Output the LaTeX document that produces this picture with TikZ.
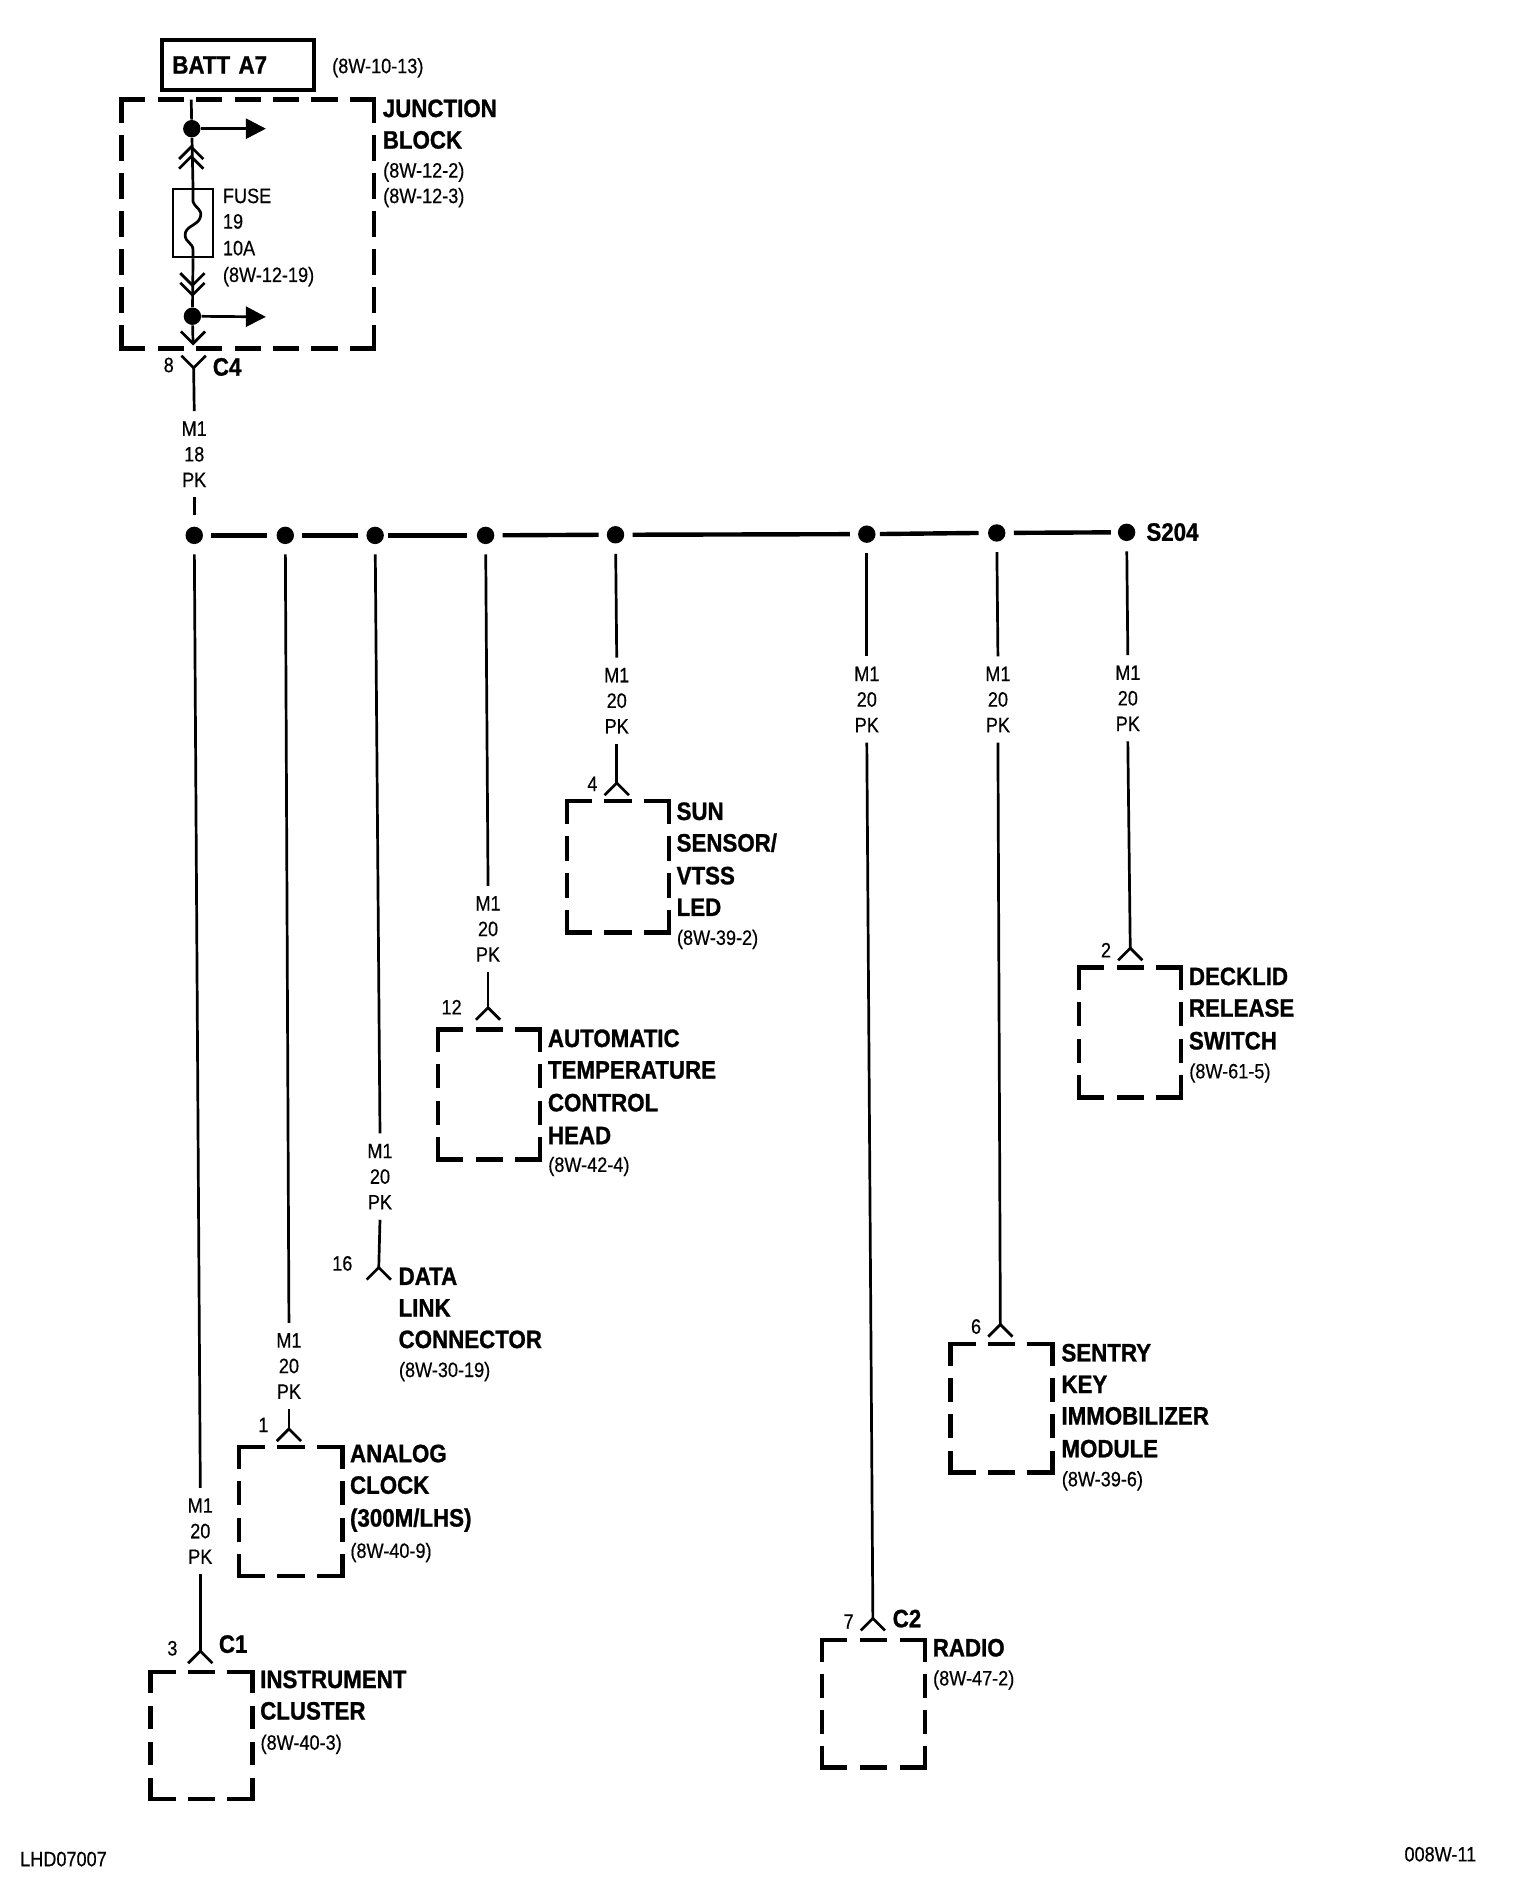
\documentclass[tikz,border=0pt]{standalone}
\usepackage{fontspec}
\usetikzlibrary{arrows.meta}
\newfontfamily\rft[FakeStretch=0.87,FakeBold=0.4]{Liberation Sans}
\newfontfamily\bft[FakeStretch=0.885,FakeBold=1]{Liberation Sans}
\tikzset{
  x=0.60703pt,y=-0.60703pt,
  wire/.style={line width=1.35pt,black},
  trunk/.style={line width=2.2pt,black},
  feedarrow/.style={wire,-{Triangle[length=10pt,width=10pt]}},
  spliced/.style={circle,fill=black,inner sep=0pt,minimum size=8.7pt},
  wirelabel/.style={font=\rft\fontsize{10.4}{12.8}\selectfont,align=center,inner xsep=0pt,inner ysep=5pt,yshift=0.5pt},
  boldtxt/.style={font=\bft\bfseries\fontsize{12.6}{15}\selectfont,anchor=base west,inner sep=0pt,xshift=-0.6pt,yshift=-3.9pt},
  regtxt/.style={font=\rft\fontsize{10.4}{12.8}\selectfont,anchor=base west,inner sep=0pt,xshift=-0.4pt,yshift=-3.2pt},
  pinno/.style={font=\rft\fontsize{10.4}{12.8}\selectfont,anchor=base,inner sep=0pt,yshift=-3.4pt},
  battbox/.style={draw,line width=2.1pt,anchor=west,font=\bft\bfseries\fontsize{12.6}{15}\selectfont,
    text width=66pt,inner xsep=5pt,minimum height=25pt,align=left},
  fusebox/.style={draw,line width=1.1pt,inner sep=0pt,minimum width=20pt,minimum height=34pt},
}
% one dashed side of a box: from, to, length in units, number of dashes
\newcommand\dashside[4]{%
  \pgfmathsetmacro\offlen{6.1+2.2}%
  \pgfmathsetmacro\onlen{(#3*0.60703-(#4-1)*\offlen)/#4}%
  \draw[line width=2.2pt,line cap=rect,dash pattern=on \onlen pt off \offlen pt] (#1) -- (#2);}
% dashed box: name, x1, y1, x2, y2, dashes across, dashes down
\newcommand\compbox[7]{%
  \coordinate (#1nw) at (#2,#3);\coordinate (#1ne) at (#4,#3);
  \coordinate (#1sw) at (#2,#5);\coordinate (#1se) at (#4,#5);
  \pgfmathsetmacro\wlen{#4-#2}\pgfmathsetmacro\hlen{#5-#3}%
  \dashside{#1nw}{#1ne}{\wlen}{#6}\dashside{#1sw}{#1se}{\wlen}{#6}%
  \dashside{#1nw}{#1sw}{\hlen}{#7}\dashside{#1ne}{#1se}{\hlen}{#7}}
% connector tip opening downward
\newcommand\tipdown[3]{\coordinate (#1) at (#2,#3);
  \draw[wire,shift={(#1)}] (-10,10) -- (0,0) -- (10,10);}
% chevron opening upward
\newcommand\tipup[3]{\coordinate (#1) at (#2,#3);
  \draw[wire,shift={(#1)}] (-10,-10) -- (0,0) -- (10,-10);}
% feed: id, label x, label y, tip x, tip y
\newcommand\feed[5]{%
  \node[wirelabel] (l#1) at (#2,#3) {M1\\20\\PK};
  \tipdown{t#1}{#4}{#5}
  \draw[wire,shorten <=5pt] (d#1) -- (l#1.north);
  \draw[wire] (l#1.south) -- (t#1);}
\begin{document}
\begin{tikzpicture}
\useasboundingbox[fill=white] (0,0) rectangle (1252,1566.7);

% top block
\node[battbox] (batt) at (132,53.5) {BATT A7};
\node[regtxt] (battref) at (274,55) {(8W-10-13)};
\compbox{jb}{100}{82}{308}{287}{7}{7}
\node[boldtxt] (jb1) at (316,90) {JUNCTION};
\node[boldtxt] (jb2) at (316,116) {BLOCK};
\node[regtxt] (jb3) at (316,141) {(8W-12-2)};
\node[regtxt] (jb4) at (316,162) {(8W-12-3)};
\node[regtxt] (fu1) at (184,162) {FUSE};
\node[regtxt] (fu2) at (184,183) {19};
\node[regtxt] (fu3) at (184,205) {10A};
\node[regtxt] (fu4) at (184,227) {(8W-12-19)};

\coordinate (jtop) at (157.5,82);
\node[spliced] (da) at (158,106) {};
\node[spliced] (db) at (158.5,260.5) {};
\coordinate (aa) at (219,106);
\coordinate (ab) at (219,261);
\node[fusebox] (fuse) at (159,184) {};
\tipdown{ca}{157.5}{121}
\tipdown{cb}{157.5}{129}
\tipup{cc}{158.5}{235}
\tipup{cd}{158.5}{243}
\tipup{ce}{159}{283}
\draw[wire] (jtop) -- (da);
\draw[feedarrow] (da) -- (aa);
\draw[feedarrow] (db) -- (ab);
\draw[wire] (da) -- (fuse.north);
\draw[wire] (fuse.north) -- (159,166) .. controls (161,172) and (167,172) .. (165,179)
  .. controls (163,186) and (152,186) .. (152.5,194) .. controls (153,200) and (159,200) .. (159,206) -- (fuse.south);
\draw[wire] (fuse.south) -- (db);
\draw[wire] (db) -- (ce);

% C4
\coordinate (c4tip) at (159.5,303);
\draw[wire,shift={(c4tip)}] (-10,-10) -- (0,0) -- (10,-10);
\node[pinno] (n8) at (139,301) {8};
\node[boldtxt] (c4) at (176,303) {C4};
\node[wirelabel] (l0) at (160,375) {M1\\18\\PK};
\draw[wire] (c4tip) -- (l0.north);

% trunk
\node[spliced] (d1) at (160,441) {};
\node[spliced] (d2) at (235,441) {};
\node[spliced] (d3) at (309,441) {};
\node[spliced] (d4) at (400,441) {};
\node[spliced] (d5) at (507,440.5) {};
\node[spliced] (d6) at (714,440) {};
\node[spliced] (d7) at (821,439) {};
\node[spliced] (d8) at (928,438.5) {};
\node[boldtxt] (s204) at (945,439) {S204};
\draw[wire,shorten >=5.5pt] (l0.south) -- (d1);
\draw[trunk,shorten <=4pt] (d1) -- (220,441);
\draw[trunk,shorten <=4pt] (d2) -- (295,441);
\draw[trunk,shorten <=2pt] (d3) -- (385,441);
\draw[trunk,shorten <=4pt] (d4) -- (493,440.5);
\draw[trunk,shorten <=4pt] (d5) -- (700,440);
\draw[trunk,shorten <=2pt] (d6) -- (806,439);
\draw[trunk,shorten <=4pt] (d7) -- (915,438.5);

% feeds
\feed{1}{165}{1262}{165}{1360}
\feed{2}{238}{1126}{238}{1177}
\feed{3}{313}{970}{312}{1044}
\feed{4}{402}{766}{402}{830}
\feed{5}{508}{578}{508}{645}
\feed{6}{714}{577}{719}{1333}
\feed{7}{822}{577}{824}{1091}
\feed{8}{929}{576}{931}{781}

% instrument cluster
\node[pinno] (n3) at (142,1358) {3};
\node[boldtxt] (c1) at (181,1355) {C1};
\compbox{bi}{124}{1377}{208}{1482}{3}{4}
\node[boldtxt] (i1) at (215,1384) {INSTRUMENT};
\node[boldtxt] (i2) at (215,1410) {CLUSTER};
\node[regtxt] (i3) at (215,1436) {(8W-40-3)};

% analog clock
\node[pinno] (n1) at (217,1174) {1};
\compbox{bc}{197}{1192}{282}{1298}{3}{4}
\node[boldtxt] (a1) at (289,1198) {ANALOG};
\node[boldtxt] (a2) at (289,1224) {CLOCK};
\node[boldtxt] (a3) at (289,1251) {(300M/LHS)};
\node[regtxt] (a4) at (289,1278) {(8W-40-9)};

% data link
\node[pinno] (n16) at (282,1041) {16};
\node[boldtxt] (dl1) at (329,1052) {DATA};
\node[boldtxt] (dl2) at (329,1078) {LINK};
\node[boldtxt] (dl3) at (329,1104) {CONNECTOR};
\node[regtxt] (dl4) at (329,1129) {(8W-30-19)};

% temperature control
\node[pinno] (n12) at (372,830) {12};
\compbox{bt}{361}{848}{445}{955}{3}{4}
\node[boldtxt] (tc1) at (452,856) {AUTOMATIC};
\node[boldtxt] (tc2) at (452,882) {TEMPERATURE};
\node[boldtxt] (tc3) at (452,909) {CONTROL};
\node[boldtxt] (tc4) at (452,936) {HEAD};
\node[regtxt] (tc5) at (452,960) {(8W-42-4)};

% sun sensor
\node[pinno] (n4) at (488,646) {4};
\compbox{bs}{467}{660}{551}{768}{3}{4}
\node[boldtxt] (ss1) at (558,669) {SUN};
\node[boldtxt] (ss2) at (558,695) {SENSOR/};
\node[boldtxt] (ss3) at (558,722) {VTSS};
\node[boldtxt] (ss4) at (558,748) {LED};
\node[regtxt] (ss5) at (558,773) {(8W-39-2)};

% radio
\node[pinno] (n7) at (699,1336) {7};
\node[boldtxt] (c2) at (736,1334) {C2};
\compbox{br}{677}{1351}{762}{1456}{3}{4}
\node[boldtxt] (ra1) at (769,1358) {RADIO};
\node[regtxt] (ra2) at (769,1383) {(8W-47-2)};

% sentry key
\node[pinno] (n6) at (804,1093) {6};
\compbox{bk}{783}{1107}{867}{1213}{3}{4}
\node[boldtxt] (sk1) at (875,1115) {SENTRY};
\node[boldtxt] (sk2) at (875,1141) {KEY};
\node[boldtxt] (sk3) at (875,1167) {IMMOBILIZER};
\node[boldtxt] (sk4) at (875,1194) {MODULE};
\node[regtxt] (sk5) at (875,1219) {(8W-39-6)};

% decklid
\node[pinno] (n2) at (911,783) {2};
\compbox{bd}{889}{797}{973}{904}{3}{4}
\node[boldtxt] (de1) at (980,805) {DECKLID};
\node[boldtxt] (de2) at (980,831) {RELEASE};
\node[boldtxt] (de3) at (980,858) {SWITCH};
\node[regtxt] (de4) at (980,883) {(8W-61-5)};

% footer
\node[regtxt] (foot1) at (17,1532) {LHD07007};
\node[regtxt,anchor=base east] (foot2) at (1217,1528) {008W-11};
\end{tikzpicture}
\end{document}
